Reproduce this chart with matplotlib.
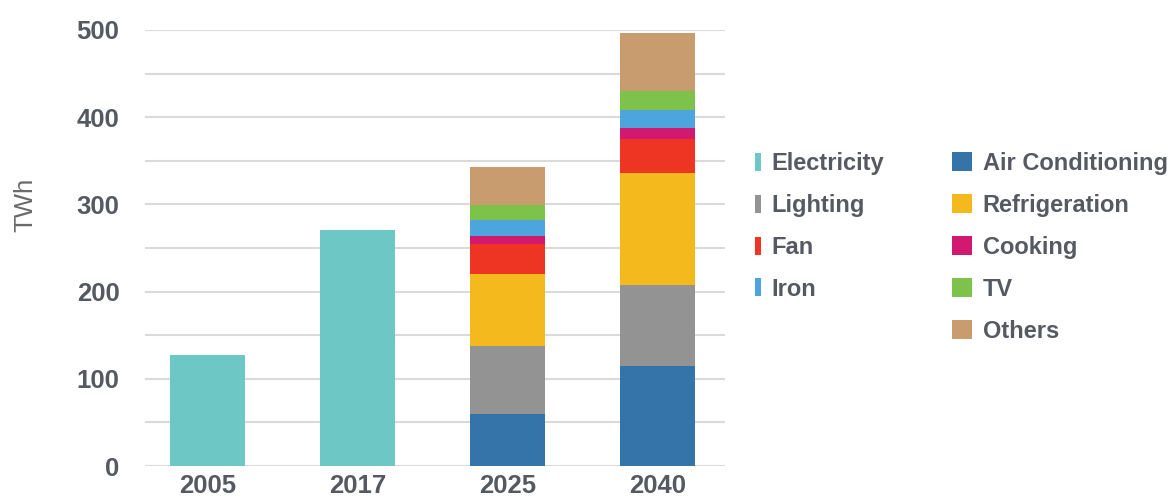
import numpy as np
import matplotlib
matplotlib.use("Agg")
import matplotlib.pyplot as plt

plt.rcParams['font.family'] = ['Liberation Sans', 'DejaVu Sans']

# Data (TWh)
years = ['2005', '2017', '2025', '2040']
electricity = [127, 271]          # historical totals (2005, 2017)

# forecast end-use breakdown for 2025 and 2040, stacked bottom -> top
enduses = ['Air Conditioning', 'Lighting', 'Refrigeration', 'Fan',
           'Cooking', 'Iron', 'TV', 'Others']
air_conditioning = [60, 115]
lighting = [78, 93]
refrigeration = [82, 128]
fan = [35, 39]
cooking = [9, 13]
iron = [18, 20]
tv = [17, 22]
others = [44, 67]

colors = {
    'Electricity': '#6dc7c4',
    'Air Conditioning': '#3574a8',
    'Lighting': '#939393',
    'Refrigeration': '#f4b91c',
    'Fan': '#ee3524',
    'Cooking': '#d3186f',
    'Iron': '#4ca5dc',
    'TV': '#7dc24b',
    'Others': '#c89c6e',
}
text_col = '#555a62'

fig = plt.figure(figsize=(11.75, 4.99), dpi=100)
ax = fig.add_axes([0.123, 0.066, 0.494, 0.874])

x = np.arange(len(years))
width = 0.5

bars = {}
bars['Electricity'] = ax.bar(x[:2], electricity, width, color=colors['Electricity'], zorder=3)

series = [air_conditioning, lighting, refrigeration, fan, cooking, iron, tv, others]
bottom = np.zeros(2)
for name, vals in zip(enduses, series):
    bars[name] = ax.bar(x[2:], vals, width, bottom=bottom, color=colors[name], zorder=3)
    bottom = bottom + np.array(vals)

ax.set_ylim(0, 500)
ax.set_xlim(-0.42, 3.45)
ax.set_yticks(np.arange(0, 501, 100))
ax.set_yticks(np.arange(50, 500, 100), minor=True)
ax.grid(axis='y', which='both', color='#dadada', linewidth=1.5, zorder=0)
ax.set_axisbelow(True)
ax.tick_params(axis='y', which='both', length=0, pad=18)
ax.tick_params(axis='x', length=0, pad=6)
ax.set_xticks(x)
ax.set_xticklabels(years)
for lab in ax.get_xticklabels() + ax.get_yticklabels():
    lab.set_fontsize(18.5)
    lab.set_fontweight('bold')
    lab.set_color(text_col)
for s in ax.spines.values():
    s.set_visible(False)

ax.set_ylabel('TWh', fontsize=18.5, color='#6a6a6a')
ax.yaxis.set_label_coords(-0.185, 0.6)

# legends: left column with thin markers, right column with squares
left_names = ['Electricity', 'Lighting', 'Fan', 'Iron']
right_names = ['Air Conditioning', 'Refrigeration', 'Cooking', 'TV', 'Others']
common = dict(frameon=False, loc='upper left', borderpad=0, borderaxespad=0,
              labelspacing=0.8, prop={'size': 17, 'weight': 'bold'},
              labelcolor=text_col)
leg1 = fig.legend([bars[n] for n in left_names], left_names,
                  bbox_to_anchor=(755 / 1175, 347 / 499),
                  handlelength=0.25, handleheight=0.8, handletextpad=0.45, **common)
leg2 = fig.legend([bars[n] for n in right_names], right_names,
                  bbox_to_anchor=(952 / 1175, 347 / 499),
                  handlelength=0.85, handleheight=0.85, handletextpad=0.45, **common)

fig.savefig('out.png', dpi=100)
